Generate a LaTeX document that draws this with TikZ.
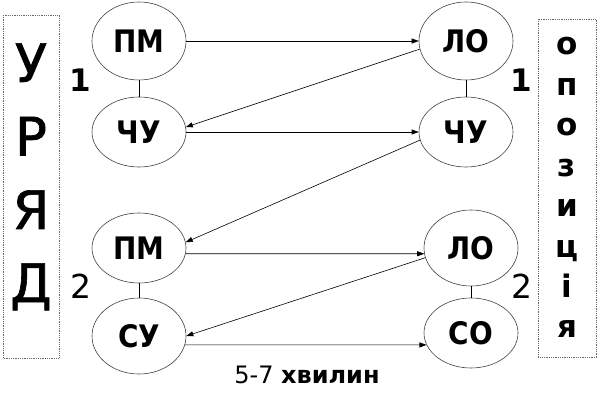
\documentclass[tikz,border=0pt]{standalone}
\usepackage{fontspec}
\setmainfont{DejaVu Sans}
\newfontfamily\condb{DejaVu Sans}[FakeStretch=0.9]
\newfontfamily\medf{DejaVu Sans}[FakeBold=1.2]
\usetikzlibrary{shapes.geometric,arrows.meta}
\tikzset{
  ell/.style={ellipse,draw=black!75,line width=0.6pt,minimum width=94pt,inner sep=0pt,
    font=\condb\bfseries\fontsize{31}{31}\selectfont},
  conn/.style={line width=0.6pt,-{Triangle[length=7pt,width=5pt]}},
  link/.style={line width=0.6pt},
  sidebox/.style={draw=black!60,line width=0.8pt,densely dotted},
  bigl/.style={anchor=base,inner sep=0pt,font=\medf\fontsize{53}{53}\selectfont},
  smalll/.style={anchor=base,inner sep=0pt,font=\bfseries\fontsize{31}{31}\selectfont},
  num/.style={anchor=base,inner sep=0pt,font=\fontsize{33}{33}\selectfont},
}
\begin{document}
\begin{tikzpicture}[x=1pt,y=-1pt]
\useasboundingbox (0,0) rectangle (600,417);
% side boxes
\draw[sidebox] (3,15) rectangle (59,358);
\draw[sidebox] (538,19) rectangle (596,357);
\node[bigl] (u1) at (31,82) {У};
\node[bigl] (u2) at (31,155.5) {Р};
\node[bigl] (u3) at (31,229) {Я};
\node[bigl] (u4) at (31,302) {Д};
\foreach \l [count=\i from 0] in {о,п,о,з,и,ц,і,я}
  \node[smalll] (o\i) at (567,55+40.4*\i) {\l};
% ellipses
\node[ell,minimum height=78pt] (pm1) at (139,41) {ПМ};
\node[ell,minimum height=70pt] (chl) at (139,132) {ЧУ};
\node[ell,minimum height=78pt] (lo1) at (466,41) {ЛО};
\node[ell,minimum height=70pt] (chr) at (466,132) {ЧУ};
\node[ell,minimum height=70pt] (pm2) at (139,248) {ПМ};
\node[ell,minimum height=76pt] (su) at (139,336) {СУ};
\node[ell,minimum height=76pt] (lo2) at (471,248) {ЛО};
\node[ell,minimum height=70pt] (so) at (471,333) {СО};
% numbers
\node[num,font=\bfseries\fontsize{31}{31}\selectfont] (n1l) at (80,92) {1};
\node[num,font=\bfseries\fontsize{31}{31}\selectfont] (n1r) at (521,92) {1};
\node[num] (n2l) at (81,298) {2};
\node[num] (n2r) at (522,298) {2};
% vertical links
\draw[link] (pm1.south) -- (chl.north);
\draw[link] (lo1.south) -- (chr.north);
\draw[link] (pm2.south) -- (su.north);
\draw[link] (lo2.south) -- (so.north);
% arrows
\draw[conn] (pm1.east) -- (lo1.west);
\draw[conn] (lo1.190) -- (chl.6);
\draw[conn] (chl.east) -- (chr.west);
\draw[conn] (chr.190) -- (pm2.7);
\draw[conn] (pm2.-7) -- (lo2.187);
\draw[conn] (lo2.192) -- (su.east);
\draw[conn] (su.-11) -- (so.195);
% caption
\node[anchor=base,inner sep=0pt,font=\fontsize{24}{24}\selectfont] (cap) at (307,383) {5-7 \textbf{хвилин}};
\end{tikzpicture}
\end{document}
